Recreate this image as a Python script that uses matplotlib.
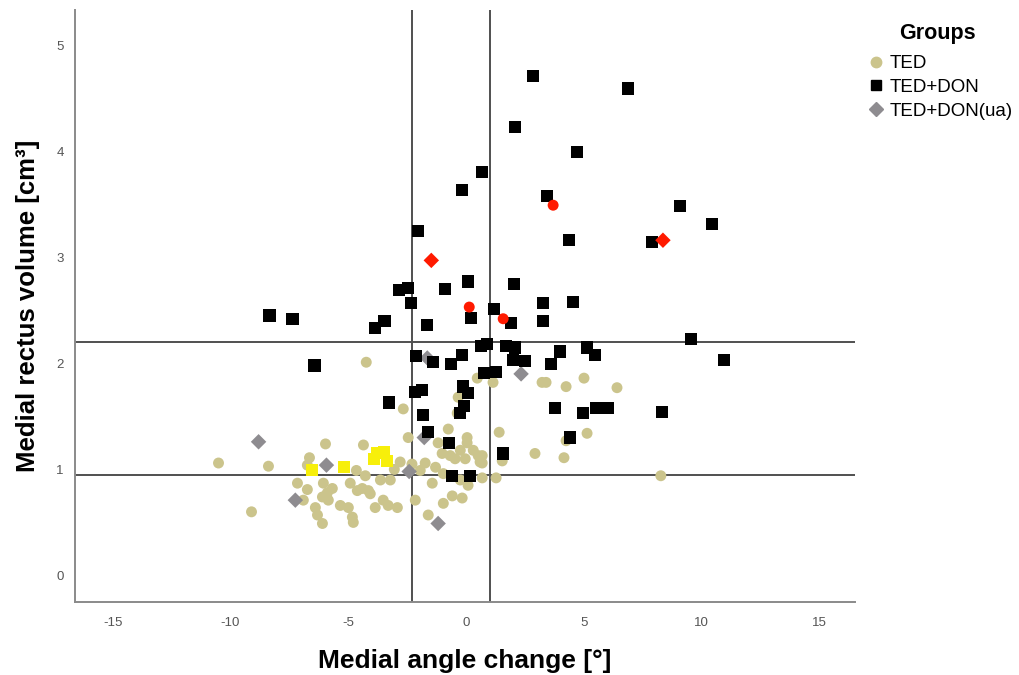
import matplotlib
matplotlib.use("Agg")
import matplotlib.pyplot as plt
from matplotlib.lines import Line2D

plt.rcParams['font.family'] = ['Liberation Sans', 'DejaVu Sans']

# ---------------- data ----------------
ted_x = [-10.51, -9.11, -8.39, -5.97, -6.65, -6.74, -7.16, -6.74, -6.06, -5.89,
         -5.68, -6.10, -5.85, -6.91, -6.40, -6.31, -6.10, -5.34, -5.00, -4.83,
         -4.79, -4.92, -4.62, -4.36, -4.28, -4.15, -4.24, -2.67, -2.46, -2.80,
         -1.74, -1.19, -0.76, -1.02, -0.68, -0.47, -0.25, 0.04, 0.04, 0.30,
         0.51, 0.59, -0.04, -1.44, -0.97, -0.25, 0.08, -0.59, -0.17, -0.97,
         -1.61, -2.16, -3.86, -3.52, -3.31, -2.92, -4.07, -3.22, -3.64, -4.41,
         -0.34, 0.47, 1.14, 3.22, 3.39, 4.24, 5.00, 6.40, 1.40, 5.13,
         4.24, 2.92, 4.15, 1.53, 0.68, 0.68, 0.68, 1.27, 8.26, -4.66,
         -0.38, -1.95, -3.05, -2.30, -1.30]
ted_y = [1.06, 0.60, 1.03, 1.24, 1.11, 1.04, 0.87, 0.81, 0.87, 0.78,
         0.82, 0.74, 0.71, 0.71, 0.64, 0.57, 0.49, 0.66, 0.64, 0.55,
         0.50, 0.87, 0.80, 1.23, 0.94, 0.80, 2.01, 1.57, 1.30, 1.07,
         1.06, 1.25, 1.38, 1.15, 1.13, 1.10, 1.18, 1.30, 1.25, 1.18,
         1.13, 1.07, 1.10, 0.87, 0.96, 0.90, 0.85, 0.75, 0.73, 0.68,
         0.57, 0.71, 0.64, 0.71, 0.66, 0.64, 0.77, 0.90, 0.90, 0.82,
         1.68, 1.86, 1.82, 1.82, 1.82, 1.78, 1.86, 1.77, 1.35, 1.34,
         1.27, 1.15, 1.11, 1.08, 1.13, 1.06, 0.92, 0.92, 0.94, 0.99,
         1.53, 0.99, 1.00, 1.05, 1.02]

don_x = [2.84, 6.86, 2.08, 4.70, 0.68, -0.17, 3.43, 9.07, 10.42, -2.03,
         4.36, 7.88, 0.08, 2.03, -0.89, -2.84, -2.46, -2.33, 3.26, 4.53,
         1.19, -8.35, -7.37, 0.21, -3.47, -3.86, -1.65, 1.91, 3.26, 9.53,
         10.93, -6.44, -2.12, -1.40, -0.64, -0.17, 0.64, 0.89, 1.69, 2.08,
         1.99, 2.50, 3.98, 3.60, 5.13, 5.47, 0.76, 1.27, -3.26, -2.16,
         -1.86, -0.13, 0.08, -0.08, -0.25, -1.82, 3.77, 4.96, 5.51, 6.02,
         8.31, 4.41, -1.61, -0.72, 1.57, -0.59, 0.17]
don_y = [4.71, 4.59, 4.23, 3.99, 3.80, 3.63, 3.58, 3.48, 3.31, 3.25,
         3.16, 3.14, 2.77, 2.75, 2.70, 2.69, 2.71, 2.57, 2.57, 2.58,
         2.51, 2.45, 2.42, 2.43, 2.40, 2.33, 2.36, 2.38, 2.40, 2.23,
         2.03, 1.98, 2.07, 2.01, 1.99, 2.08, 2.16, 2.18, 2.16, 2.15,
         2.03, 2.02, 2.11, 1.99, 2.15, 2.08, 1.91, 1.92, 1.63, 1.73,
         1.75, 1.78, 1.72, 1.60, 1.53, 1.51, 1.58, 1.53, 1.58, 1.58,
         1.54, 1.30, 1.35, 1.25, 1.15, 0.94, 0.94]

ua_x = [-8.81, -5.93, -7.25, -1.19, -1.78, -2.42, -1.65, 2.33]
ua_y = [1.26, 1.04, 0.71, 0.49, 1.30, 0.98, 2.05, 1.90]

red_circle_x = [3.69, 0.13, 1.57]
red_circle_y = [3.49, 2.53, 2.42]
red_diamond_x = [-1.48, 8.35]
red_diamond_y = [2.97, 3.16]

yellow_x = [-6.53, -5.17, -3.77, -3.47, -3.35, -3.90]
yellow_y = [0.99, 1.02, 1.15, 1.16, 1.08, 1.10]

vlines = [-2.3, 1.0]
hlines = [2.2, 0.95]

xticks = [-15, -10, -5, 0, 5, 10, 15]
yticks = [0, 1, 2, 3, 4, 5]

groups = ['TED', 'TED+DON', 'TED+DON(ua)']

# ---------------- figure ----------------
W, H = 1020, 675
fig = plt.figure(figsize=(W / 100, H / 100), dpi=100)
ax = fig.add_axes([75 / W, 1 - 602 / H, 780 / W, 592 / H])

ted_col = '#cbc48c'
ua_col = '#8e8c90'
line_col = '#505050'

ax.set_xlim(-16.6, 16.5)
ax.set_ylim(-0.25, 5.33)

for v in vlines:
    ax.axvline(v, color=line_col, lw=1.4, zorder=1)
for h in hlines:
    ax.axhline(h, color=line_col, lw=1.4, zorder=1)

ax.scatter(ted_x, ted_y, s=62, marker='o', color=ted_col, edgecolors='none', zorder=2)
ax.scatter(yellow_x, yellow_y, s=75, marker='s', color='#f7ef0a', edgecolors='none', zorder=3)
ax.scatter(ua_x, ua_y, s=62, marker='D', color=ua_col, edgecolors='none', zorder=3)
ax.scatter(don_x, don_y, s=78, marker='s', color='black', edgecolors='none', zorder=4)
ax.scatter(red_circle_x, red_circle_y, s=62, marker='o', color='#ff1a00', edgecolors='none', zorder=5)
ax.scatter(red_diamond_x, red_diamond_y, s=62, marker='D', color='#ff1a00', edgecolors='none', zorder=5)

for sp in ['top', 'right']:
    ax.spines[sp].set_visible(False)
for sp in ['left', 'bottom']:
    ax.spines[sp].set_color('#8a8a8a')
    ax.spines[sp].set_linewidth(1.4)

ax.set_xticks(xticks)
ax.set_yticks(yticks)
ax.set_xticklabels([str(t) for t in xticks])
ax.tick_params(axis='both', length=0, labelsize=9.5, labelcolor='#555555')
ax.tick_params(axis='x', pad=11)
ax.tick_params(axis='y', pad=8)

ax.set_xlabel('Medial angle change [°]', fontsize=19, fontweight='bold')
ax.xaxis.set_label_coords(0.5, -0.079)
ax.set_ylabel('Medial rectus volume [cm³]', fontsize=18.5, fontweight='bold')
ax.yaxis.set_label_coords(-0.045, 0.5)

handles = [
    Line2D([], [], marker='o', ls='none', color=ted_col, markersize=7.5),
    Line2D([], [], marker='s', ls='none', color='black', markersize=7.5),
    Line2D([], [], marker='D', ls='none', color=ua_col, markersize=7),
]
fig.text(937 / W, 1 - 33 / H, 'Groups', fontsize=15.5, fontweight='bold',
         ha='center', va='center')
leg = fig.legend(handles, groups, loc='upper left', bbox_to_anchor=(870 / W, 1 - 55 / H),
                 frameon=False, fontsize=13.5, handlelength=0.6,
                 handletextpad=0.45, labelspacing=0.36, borderaxespad=0, borderpad=0)

fig.savefig('out.png', dpi=100)
